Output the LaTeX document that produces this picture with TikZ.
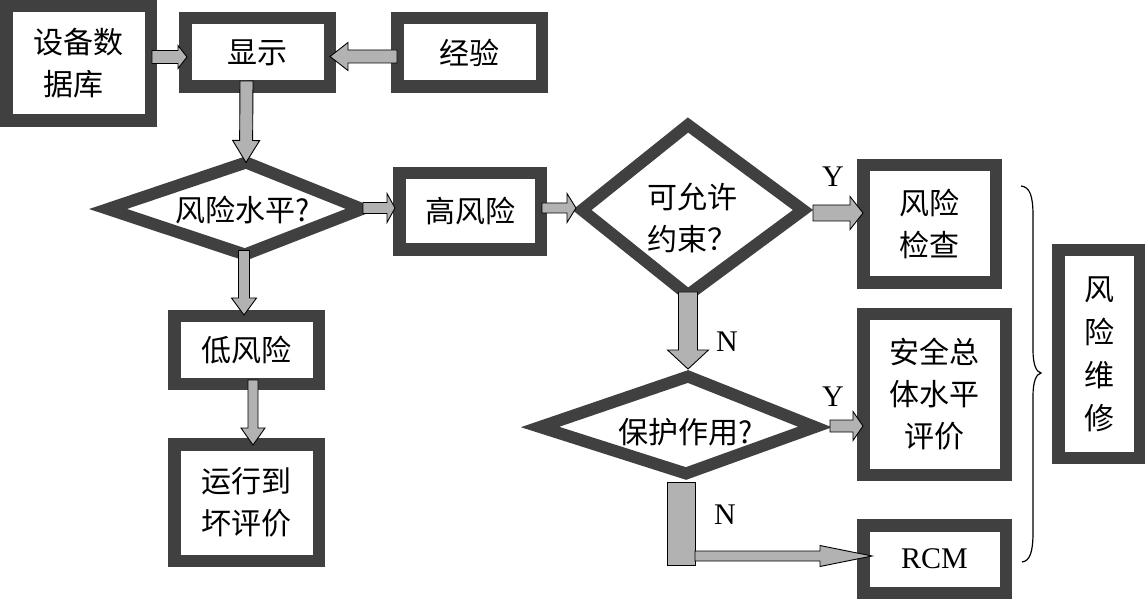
\documentclass[tikz,border=0pt]{standalone}
\usepackage{fontspec}
\setmainfont{Liberation Serif}
\newfontfamily\cjk{Noto Sans CJK SC}
\usetikzlibrary{calc}
\definecolor{bdr}{RGB}{64,64,64}
\definecolor{afill}{RGB}{178,178,178}
\newcommand\cjkfont{\fontsize{30pt}{42pt}\selectfont\cjk}
\newcommand\latfont{\fontsize{30pt}{36pt}\selectfont}
% #1 start, #2 tip, #3 half shaft width, #4 half head width, #5 head length
\newcommand\blockarrow[5]{%
  \path (#1) coordinate (ba-s) (#2) coordinate (ba-t);
  \path ($(ba-t)!#5!(ba-s)$) coordinate (ba-n);
  \draw[barrow] ($(ba-s)!#3!90:(ba-t)$) -- ($(ba-n)!#3!90:(ba-t)$) -- ($(ba-n)!#4!90:(ba-t)$) -- (ba-t) -- ($(ba-n)!#4!-90:(ba-t)$) -- ($(ba-n)!#3!-90:(ba-t)$) -- ($(ba-s)!#3!-90:(ba-t)$) -- cycle;
}
\tikzset{
  box/.style={draw=bdr, line width=12.5pt, fill=white, inner sep=0pt, align=center, font=\cjkfont},
  dia/.style={draw=bdr, line width=12pt, fill=white, line join=miter},
  dtext/.style={inner sep=0pt, font=\cjkfont},
  barrow/.style={draw=black, line width=0.9pt, fill=afill, line join=miter},
  lbl/.style={inner sep=0pt, font=\latfont},
  bracestyle/.style={draw=black, line width=1.2pt}
}
\begin{document}
\begin{tikzpicture}[x=1pt,y=-1pt]
\useasboundingbox (0,0) rectangle (1145,601);
% boxes
\node[box, align=left, minimum width=144.5pt, minimum height=114.5pt] (db) at (78.5,63.5) {设备数\\\hspace*{10pt}据库};
\node[box, minimum width=144.5pt, minimum height=68.5pt] (disp) at (257.5,52.5) {显示};
\node[box, minimum width=144.5pt, minimum height=68.5pt] (exp) at (469.5,52.5) {经验};
\node[box, minimum width=141.5pt, minimum height=76.5pt] (high) at (470,211.5) {高风险};
\node[box, minimum width=144.5pt, minimum height=67.5pt] (low) at (246.5,350) {低风险};
\node[box, minimum width=144.5pt, minimum height=116.5pt] (run) at (246.5,502.5) {运行到\\坏评价};
\node[box, minimum width=132.5pt, minimum height=117.5pt] (chk) at (929.5,224) {风险\\检查};
\node[box, minimum width=142.5pt, minimum height=160.5pt] (safe) at (934.5,394.5) {安全总\\体水平\\评价};
\node[box, font=\latfont, minimum width=142.5pt, minimum height=67.5pt] (rcm) at (934.5,559) {RCM};
\node[box, font={\fontsize{30pt}{43pt}\selectfont\cjk}, minimum width=81.5pt, minimum height=207.5pt] (maint) at (1099,354) {风\\险\\维\\修};
% diamonds
\coordinate (d1w) at (108,209); \coordinate (d1n) at (246,162.5);
\coordinate (d1e) at (362,209); \coordinate (d1s) at (245,254.5);
\draw[dia] (d1n) -- (d1e) -- (d1s) -- (d1w) -- cycle;
\node[dtext] (d1) at (243,210) {风险水平?};
\coordinate (d2w) at (582,210); \coordinate (d2n) at (688,125);
\coordinate (d2e) at (803,210); \coordinate (d2s) at (688,295);
\draw[dia] (d2n) -- (d2e) -- (d2s) -- (d2w) -- cycle;
\node[dtext, align=left] (d2) at (692,218) {可允许\\约束？};
\coordinate (d3w) at (540,427); \coordinate (d3n) at (688,376.5);
\coordinate (d3e) at (815,427); \coordinate (d3s) at (686,473.5);
\draw[dia] (d3n) -- (d3e) -- (d3s) -- (d3w) -- cycle;
\node[dtext] (d3) at (686,432) {保护作用?};
% labels
\node[lbl] (y1) at (833,177) {Y};
\node[lbl] (n1) at (727,342) {N};
\node[lbl] (y2) at (833,397) {Y};
\node[lbl] (n2) at (725,515) {N};
% block arrows
\blockarrow{[xshift=-5pt,yshift=6.5pt]db.east}{[xshift=8pt,yshift=-4.5pt]disp.west}{6.5pt}{11.5pt}{9pt}
\blockarrow{[xshift=6pt,yshift=-4pt]exp.west}{[xshift=-6pt,yshift=-4pt]disp.east}{6.5pt}{14pt}{18pt}
\blockarrow{[xshift=-11pt,yshift=12pt]disp.south}{d1n}{6.5pt}{13.5pt}{22pt}
\blockarrow{[xshift=1pt,yshift=1pt]d1e}{[xshift=2pt,yshift=3.5pt]high.west}{5.5pt}{14.5pt}{8pt}
\blockarrow{[xshift=-1pt,yshift=4pt]d1s}{[xshift=-2.5pt,yshift=-5pt]low.north}{5.5pt}{12.5pt}{17pt}
\blockarrow{[xshift=6.5pt,yshift=10pt]low.south}{[xshift=6.5pt,yshift=-7pt]run.north}{5pt}{12pt}{17pt}
\blockarrow{[xshift=-5pt,yshift=3.5pt]high.east}{[xshift=-6pt,yshift=2pt]d2w}{5pt}{14.5pt}{9pt}
\blockarrow{[xshift=10pt,yshift=-3pt]d2e}{[xshift=6pt,yshift=11pt]chk.west}{8pt}{16.5pt}{13pt}
\blockarrow{[yshift=3pt]d2s}{[yshift=7.5pt]d3n}{9.5pt}{20.5pt}{19pt}
\blockarrow{[xshift=15pt,yshift=1pt]d3e}{[xshift=6pt,yshift=-31.5pt]safe.west}{6pt}{14.5pt}{10pt}
\node[draw=black, line width=0.9pt, fill=afill, minimum width=28pt, minimum height=83pt, inner sep=0pt, outer sep=0pt] (nbar) at (681,523.5) {};
\blockarrow{[yshift=9pt]nbar.south east}{[xshift=15pt,yshift=3pt]rcm.west}{5pt}{10.5pt}{52pt}
% brace
\coordinate (bt) at (1021,186); \coordinate (bm) at (1041,373); \coordinate (bb) at (1022,562);
\draw[bracestyle] (bt) .. controls (1030,187) and (1033,196) .. (1033,216) -- (1033,350)
  .. controls (1033,364) and (1036,372) .. (bm)
  .. controls (1036,374) and (1033,382) .. (1033,396) -- (1033,532)
  .. controls (1033,552) and (1030,561) .. (bb);
\end{tikzpicture}
\end{document}
